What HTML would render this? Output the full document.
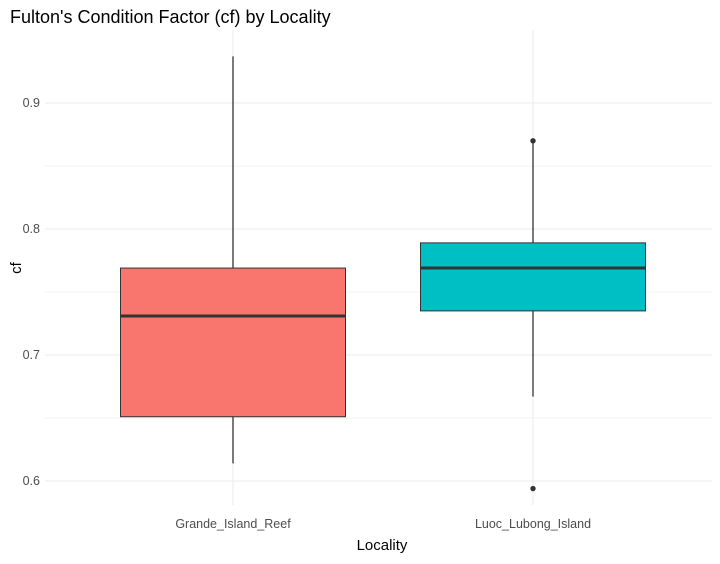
<!DOCTYPE html>
<html><head><meta charset="utf-8"><style>
body{margin:0;background:#fff;font-family:"Liberation Sans",sans-serif}
</style></head><body>
<svg id="chart" width="720" height="559" xmlns="http://www.w3.org/2000/svg">
<text x="10" y="23" font-size="18" fill="#000">Fulton's Condition Factor (cf) by Locality</text>
<g id="grid"></g><g id="boxes"></g><g id="axes"></g>
<text x="382" y="550" font-size="15" text-anchor="middle" fill="#000">Locality</text>
<text transform="translate(21,268) rotate(-90)" font-size="15" text-anchor="middle" fill="#000">cf</text>
</svg>
<script>
const categories=["Grande_Island_Reef","Luoc_Lubong_Island"];
const colors=["#F8766D","#00BFC4"];
const q1=[0.651,0.735];
const median=[0.731,0.769];
const q3=[0.769,0.789];
const whiskLo=[0.614,0.667];
const whiskHi=[0.937,0.870];
const outliers=[[],[0.870,0.594]];
const yTicks=[0.6,0.7,0.8,0.9];
const ns="http://www.w3.org/2000/svg";
const y=v=>481-(v-0.6)*1260;
const x=i=>233+i*300;
const half=112.5;
function mk(t,a,p){const e=document.createElementNS(ns,t);for(const k in a)e.setAttribute(k,a[k]);p.appendChild(e);return e;}
const grid=document.getElementById('grid'),boxes=document.getElementById('boxes'),axes=document.getElementById('axes');
for(let i=0;i<yTicks.length;i++){
 const v=yTicks[i];
 const l=mk('line',{x1:45,x2:712,y1:y(v),y2:y(v),stroke:'#ebebeb','stroke-width':1},grid);
 
 
 if(i<yTicks.length-1){const m=mk('line',{x1:45,x2:712,y1:y(v+0.05),y2:y(v+0.05),stroke:'#f3f3f3','stroke-width':1},grid);
 
 }
 const t=mk('text',{x:40,y:y(v)+4,'font-size':12.5,'text-anchor':'end',fill:'#4d4d4d'},axes);
 t.textContent=v.toFixed(1);
 
 
}
categories.forEach((c,i)=>{
 const g=mk('line',{x1:x(i),x2:x(i),y1:30,y2:505,stroke:'#ebebeb','stroke-width':1},grid);
 
 
 const w1=mk('line',{x1:x(i),x2:x(i),y1:y(whiskHi[i]),y2:y(q3[i]),stroke:'#222','stroke-width':1.2},boxes);
 
 
 const w2=mk('line',{x1:x(i),x2:x(i),y1:y(q1[i]),y2:y(whiskLo[i]),stroke:'#222','stroke-width':1.2},boxes);
 
 
 const b=mk('rect',{x:x(i)-half,y:y(q3[i]),width:2*half,height:y(q1[i])-y(q3[i]),fill:colors[i],stroke:'#333','stroke-width':1},boxes);
 
 
 const m=mk('line',{x1:x(i)-half,x2:x(i)+half,y1:y(median[i]),y2:y(median[i]),stroke:'#333','stroke-width':3},boxes);
 
 
 outliers[i].forEach(o=>{const p=mk('circle',{cx:x(i),cy:y(o),r:2.7,fill:'#333'},boxes);
 
 });
 const t=mk('text',{x:x(i),y:528,'font-size':12.5,'text-anchor':'middle',fill:'#4d4d4d'},axes);
 t.textContent=c;
 
 
});
</script>
</body></html>
